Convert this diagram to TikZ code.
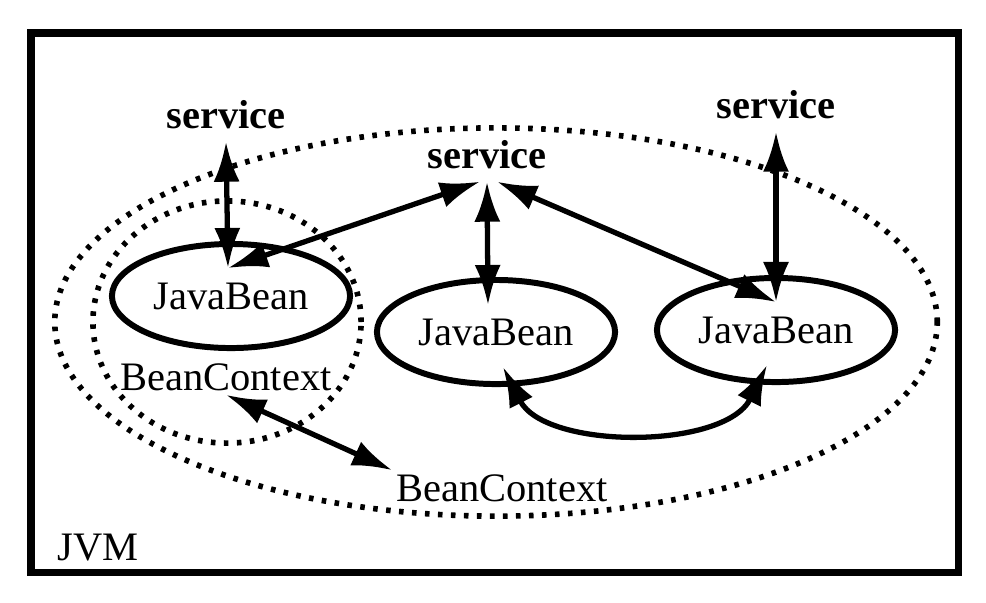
\documentclass[tikz,border=0pt]{standalone}
\usepackage{fontspec}
\setmainfont{Liberation Serif}
\usetikzlibrary{arrows.meta,shapes.geometric}

\begin{document}
\begin{tikzpicture}[x=0.01cm, y=-0.01cm, font=\fontsize{11.5}{13}\selectfont,
        bean/.style={draw, ellipse, line width=1.7pt, minimum width=2.38cm, minimum height=1.04cm, inner sep=0pt},
        svc/.style={font=\fontsize{11.5}{13}\selectfont\bfseries},
        ctx/.style={inner sep=1pt},
        link/.style={line width=1.5pt, {Latex[length=4mm,width=2.6mm]}-{Latex[length=4mm,width=2.6mm]}},
        dotring/.style={line width=1.6pt, dash pattern=on 1.3pt off 2.4pt}]
        \useasboundingbox (0, 0) rectangle (986, 602);
        \draw[line width=2pt] (31, 33) rectangle (958, 572);
        \draw[dotring] (496, 322) ellipse [x radius=4.41cm, y radius=1.94cm];
        \draw[dotring] (227, 322) ellipse [x radius=1.34cm, y radius=1.21cm];
        \node[bean](jbL) at (231, 296) {JavaBean};
        \node[bean](jbM) at (496, 332) {JavaBean};
        \node[bean](jbR) at (776, 330) {JavaBean};
        \node[svc](svcL) at (226, 115) {service};
        \node[svc](svcM) at (487, 155) {service};
        \node[svc](svcR) at (776, 105) {service};
        \node[ctx](ctxIn) at (226, 377) {BeanContext};
        \node[ctx](ctxOut) at (502, 488) {BeanContext};
        \node(jvm) at (98, 548) {JVM};
        \coordinate(jbLtop) at (228, 268);
        \coordinate(jbMtop) at (488, 305);
        \coordinate(jbRtop) at (776, 302);
        \coordinate(jbMbot) at (503, 367);
        \coordinate(jbRbot) at (767, 365);
        \draw[link] (svcL.south) -- (jbLtop);
        \draw[link] ([xshift=-0.07cm]svcM.south) -- (jbLtop);
        \draw[link] (svcM.south) -- (jbMtop);
        \draw[link] ([xshift=0.1cm]svcM.south) -- (jbRtop);
        \draw[link] (svcR.south) -- (jbRtop);
        \draw[link] (jbMbot) .. controls (545, 450) and (725, 450) .. (jbRbot);
        \draw[link] (ctxIn.south) -- (ctxOut.north west);
\end{tikzpicture}
\end{document}
